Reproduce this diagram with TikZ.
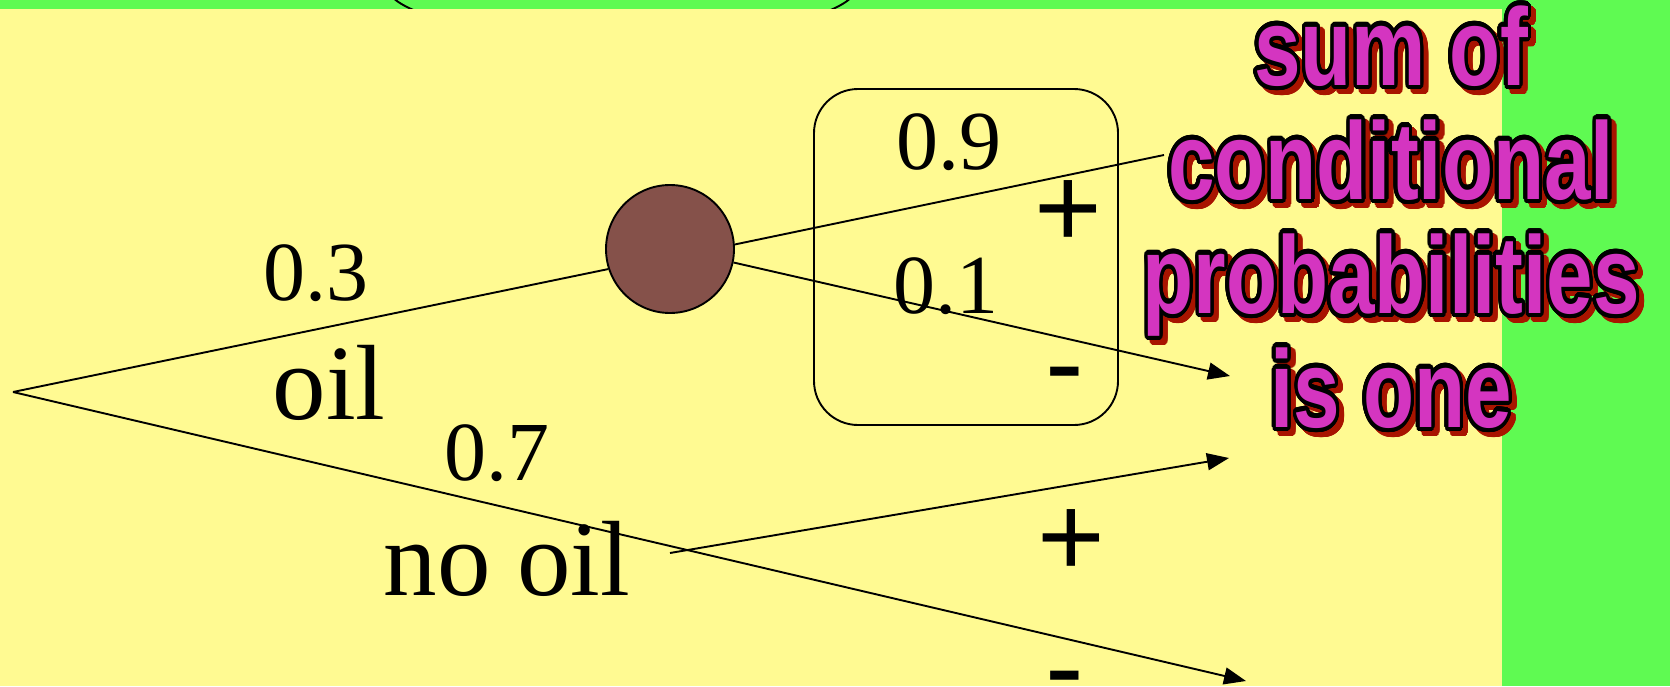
\documentclass[tikz,border=0pt]{standalone}
\usepackage{fontspec}
\setmainfont{Liberation Serif}
\newfontfamily\signfont{Liberation Sans}
\usepackage[copies]{contour}
\contourlength{2.2pt}
\contournumber{32}
\usetikzlibrary{positioning,arrows.meta}

\definecolor{bggreen}{HTML}{5FFA52}
\definecolor{paleyellow}{HTML}{FFFA92}
\definecolor{chancebrown}{HTML}{85514A}
\definecolor{notepink}{HTML}{D435C0}
\definecolor{noteshadow}{HTML}{A81400}

\newcommand\noteline[1]{\scalebox{0.76}[1]{\contour{black}{#1}}}
\newcommand\shadeline[1]{\scalebox{0.76}[1]{\contour{noteshadow}{#1}}}

\begin{document}
\begin{tikzpicture}[x=0.5pt, y=-0.5pt,
	branch/.style={line width=0.95pt},
	arrowline/.style={branch, -{Triangle[length=11pt, width=8.5pt]}},
	prob/.style={inner sep=0pt, anchor=base, font=\fontsize{42}{50}\selectfont},
	label/.style={inner sep=0pt, anchor=base, font=\fontsize{53.5}{64}\selectfont},
	sign/.style={inner sep=0pt, anchor=base, font=\signfont\fontsize{58}{70}\selectfont},
	note/.style={inner sep=0pt, align=center, text=notepink,
		font=\signfont\bfseries\fontsize{55}{57}\selectfont}]
	\useasboundingbox (0,0) rectangle (1670,686);
	% background
	\fill[bggreen] (0,0) rectangle (1670,686);
	\draw[line width=0.95pt] (622,-14) ellipse [x radius=235, y radius=52];
	\fill[paleyellow] (0,9) rectangle (1502,686);

	% tree
	\coordinate (root) at (13,392);
	\node[circle, draw, line width=0.95pt, fill=chancebrown, minimum size=64pt, inner sep=0pt] (chance) at (670,249) {};
	\node[draw, line width=0.95pt, rounded corners=22pt, minimum width=152pt, minimum height=168pt] (cond) at (966,257) {};
	\coordinate (hidden) at (1164,155);
	\coordinate (oilminus) at (1230,376);
	\coordinate (split) at (670,553);
	\coordinate (nooilplus) at (1229,458);
	\coordinate (nooilminus) at (1246,681);

	\draw[branch] (root) -- (chance.198);
	\draw[branch] (chance.4) -- (hidden);
	\draw[arrowline] (chance.-12) -- (oilminus);
	\draw[arrowline] (root) -- (nooilminus);
	\draw[arrowline] (split) -- (nooilplus);

	% labels
	\node[prob] (p3) at (316,300) {0.3};
	\node[label] (oil) at (329,419) {oil};
	\node[prob] (p7) at (497,480) {0.7};
	\node[label] (nooil) at (507,595) {no oil};
	\node[prob] (p9) at (949,169) {0.9};
	\node[prob] (p1) at (946,313) {0.1};
	\node[sign] (plus1) at (1068,247) {+};
	\node[sign] (minus1) at (1065,402) {-};
	\node[sign] (plus2) at (1071,576) {+};
	\node[sign] (minus2) at (1065,706) {-};

	% note
	\node[note, text=noteshadow] (shade) at (1396,224) {\shadeline{sum of}\\\shadeline{conditional}\\\shadeline{probabilities}\\\shadeline{is one}};
	\node[note] (sumnote) at (1391,219) {\noteline{sum of}\\\noteline{conditional}\\\noteline{probabilities}\\\noteline{is one}};
\end{tikzpicture}
\end{document}
